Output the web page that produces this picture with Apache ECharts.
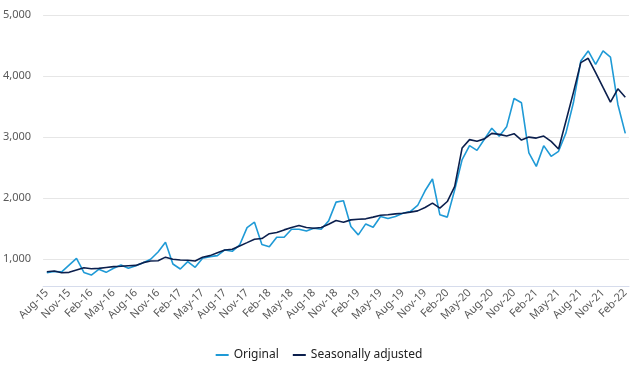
<!DOCTYPE html>
<html>
<head>
<meta charset="utf-8">
<script src="https://cdn.jsdelivr.net/npm/echarts@6/dist/echarts.min.js"></script>
<style>html,body{margin:0;padding:0;background:#fff}#c{width:638px;height:369px}</style>
</head>
<body>
<div id="c"></div>
<script>
var months = ["Aug-15","Sep-15","Oct-15","Nov-15","Dec-15","Jan-16","Feb-16","Mar-16","Apr-16","May-16","Jun-16","Jul-16",
"Aug-16","Sep-16","Oct-16","Nov-16","Dec-16","Jan-17","Feb-17","Mar-17","Apr-17","May-17","Jun-17","Jul-17",
"Aug-17","Sep-17","Oct-17","Nov-17","Dec-17","Jan-18","Feb-18","Mar-18","Apr-18","May-18","Jun-18","Jul-18",
"Aug-18","Sep-18","Oct-18","Nov-18","Dec-18","Jan-19","Feb-19","Mar-19","Apr-19","May-19","Jun-19","Jul-19",
"Aug-19","Sep-19","Oct-19","Nov-19","Dec-19","Jan-20","Feb-20","Mar-20","Apr-20","May-20","Jun-20","Jul-20",
"Aug-20","Sep-20","Oct-20","Nov-20","Dec-20","Jan-21","Feb-21","Mar-21","Apr-21","May-21","Jun-21","Jul-21",
"Aug-21","Sep-21","Oct-21","Nov-21","Dec-21","Jan-22","Feb-22"];

var original = [775,795,790,900,1010,780,737,830,781,847,901,847,
890,940,995,1115,1275,918,836,956,863,1011,1038,1055,
1148,1126,1230,1515,1603,1236,1201,1357,1357,1488,1488,1460,
1505,1488,1625,1932,1954,1531,1395,1575,1521,1696,1663,1696,
1751,1778,1877,2118,2311,1724,1686,2135,2628,2858,2781,2963,
3143,3012,3166,3632,3561,2738,2518,2858,2683,2765,3067,3561,
4247,4411,4191,4411,4311,3533,3059];

var adjusted = [791,803,775,781,819,857,840,846,860,874,880,890,
895,940,967,970,1030,995,984,978,967,1028,1055,1104,
1148,1159,1214,1268,1323,1335,1415,1433,1477,1515,1548,1515,
1505,1515,1570,1630,1603,1641,1652,1658,1686,1718,1724,1740,
1751,1768,1789,1844,1916,1833,1942,2189,2820,2957,2929,2969,
3059,3043,3015,3054,2949,2998,2982,3015,2929,2804,3262,3728,
4220,4290,4054,3812,3571,3790,3653];

var seriesNames = ["Original", "Seasonally adjusted"];
var yMin = 557, yMax = 5000;

var chart = echarts.init(document.getElementById('c'), null, {renderer: 'canvas'});
var font = "'Noto Sans', sans-serif";
chart.setOption({
  animation: false,
  backgroundColor: '#fff',
  grid: {left: 39, right: 9, top: 15, bottom: 83, containLabel: false},
  legend: {
    data: seriesNames,
    top: 344,
    left: 'center',
    icon: 'rect',
    itemWidth: 13,
    itemHeight: 2,
    itemGap: 14,
    textStyle: {fontFamily: font, fontSize: 12, color: '#222'}
  },
  xAxis: {
    type: 'category',
    data: months,
    boundaryGap: true,
    axisLine: {lineStyle: {color: '#d6dcec', width: 1}},
    axisTick: {show: false},
    axisLabel: {interval: 2, rotate: 45, fontFamily: font, fontSize: 11, color: '#595959', margin: 5}
  },
  yAxis: {
    type: 'value',
    min: yMin,
    max: yMax,
    splitNumber: 5,
    axisLine: {show: false},
    axisTick: {show: false},
    axisLabel: {
      showMinLabel: false,
      fontFamily: font, fontSize: 11, color: '#595959', margin: 12,
      formatter: function (v) { return v.toLocaleString('en-US'); }
    },
    splitLine: {lineStyle: {color: '#e6e6e6', width: 1}}
  },
  series: [
    {name: seriesNames[0], type: 'line', data: original, symbol: 'none', lineStyle: {width: 1.6, color: '#1f9ad6'}, itemStyle: {color: '#1f9ad6'}},
    {name: seriesNames[1], type: 'line', data: adjusted, symbol: 'none', lineStyle: {width: 1.6, color: '#0b1f4d'}, itemStyle: {color: '#0b1f4d'}}
  ]
});
</script>
</body>
</html>
